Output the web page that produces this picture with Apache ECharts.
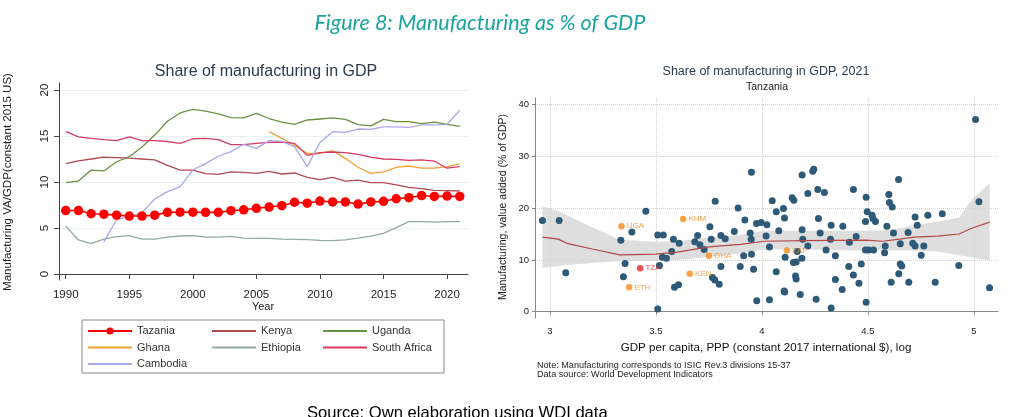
<!DOCTYPE html>
<html><head><meta charset="utf-8">
<script src="https://cdn.jsdelivr.net/npm/echarts@6/dist/echarts.min.js"></script>
<style>html,body{margin:0;padding:0;background:#fff}#c{width:1022px;height:417px}</style>
</head><body><div id="c"></div>
<script>
// ---------- Left panel data ----------
const years = [1990,1991,1992,1993,1994,1995,1996,1997,1998,1999,2000,2001,2002,2003,2004,2005,2006,2007,2008,2009,2010,2011,2012,2013,2014,2015,2016,2017,2018,2019,2020,2021];
const yearTicks = [1990,1995,2000,2005,2010,2015,2020];
const leftYTicks = [0,5,10,15,20];
const tanzania = [6.9,6.9,6.55,6.5,6.4,6.3,6.3,6.4,6.7,6.72,6.72,6.7,6.7,6.88,6.98,7.14,7.28,7.43,7.8,7.7,7.93,7.83,7.83,7.6,7.83,7.9,8.18,8.3,8.53,8.43,8.47,8.43];
const kenya = [12.0,12.3,12.5,12.7,12.65,12.6,12.5,12.4,11.8,11.3,11.3,10.9,10.82,11.1,11.05,10.94,11.15,10.87,10.98,10.5,10.25,10.5,10.1,10.2,9.93,9.93,9.7,9.42,9.28,9.1,9.06,9.02];
const uganda = [9.93,10.1,11.3,11.2,12.2,12.75,13.8,15.1,16.6,17.5,17.9,17.7,17.4,17.0,16.96,17.46,16.9,16.5,16.27,16.74,16.85,16.96,16.8,16.23,16.1,16.8,16.56,16.56,16.34,16.5,16.27,16.05];
const ghana = [null,null,null,null,null,null,null,null,null,null,null,null,null,null,null,null,15.47,14.75,14.0,13.1,13.1,13.4,12.57,11.6,10.94,11.1,11.6,11.74,11.5,11.5,11.67,11.96];
const ethiopia = [5.2,3.7,3.3,3.8,4.06,4.17,3.8,3.8,4.0,4.13,4.17,4.0,4.0,4.1,3.9,3.88,3.88,3.8,3.77,3.73,3.66,3.62,3.7,3.9,4.13,4.42,5.04,5.69,5.69,5.65,5.69,5.69];
const southAfrica = [15.5,14.9,14.75,14.6,14.5,14.9,14.5,14.5,14.4,14.2,14.7,14.75,14.6,14.06,14.06,14.2,14.3,14.35,14.2,12.9,13.2,13.26,13.2,13.0,12.7,12.5,12.46,12.35,12.4,12.28,11.5,11.67];
const cambodia = [null,null,null,3.5,5.9,6.2,6.7,8.15,8.95,9.5,11.3,12.0,12.8,13.3,14.1,13.66,14.5,14.4,13.84,11.67,14.3,15.47,15.4,15.76,15.72,16.0,16.0,15.94,16.2,16.2,16.27,17.8];

// ---------- Right panel data ----------
const gdpTicks = [3,3.5,4,4.5,5];
const mfgTicks = [0,10,20,30,40];
const otherX = [2.965,3.044,3.075,3.335,3.347,3.355,3.387,3.453,3.509,3.535,3.517,3.509,3.531,3.55,3.575,3.583,3.61,3.588,3.607,3.684,3.697,3.708,3.728,3.755,3.761,3.78,3.767,3.778,3.799,3.807,3.827,3.807,3.87,3.888,3.92,3.898,3.914,3.951,3.945,3.95,3.951,3.961,3.975,3.976,3.997,4.024,4.02,4.036,4.049,4.068,4.08,4.102,4.107,4.068,4.105,4.108,4.036,4.11,4.167,4.143,4.151,4.19,4.19,4.193,4.189,4.149,4.162,4.159,4.162,4.181,4.217,4.217,4.24,4.245,4.264,4.267,4.275,4.295,4.303,4.256,4.327,4.324,4.347,4.347,4.379,4.327,4.382,4.413,4.41,4.432,4.432,4.445,4.458,4.469,4.492,4.497,4.489,4.489,4.503,4.527,4.492,4.52,4.524,4.536,4.59,4.582,4.579,4.599,4.602,4.615,4.621,4.61,4.645,4.653,4.653,4.66,4.646,4.69,4.693,4.712,4.723,4.733,4.723,4.752,4.764,4.783,4.818,4.851,4.929,5.008,5.024,5.074];
const otherY = [17.6,17.6,7.5,13.8,6.75,9.3,15.4,19.4,14.8,14.8,8.9,0.5,10.5,10.3,11.6,14.0,13.2,4.7,5.2,13.5,14.7,12.9,12.0,16.4,14.0,21.3,6.6,6.1,5.3,14.7,14.1,8.7,15.5,20.0,17.7,8.7,10.8,26.9,15.2,14.0,11.1,8.2,17.0,2.1,17.2,16.8,14.6,12.5,21.4,19.3,15.6,19.9,18.1,7.7,4.0,3.8,2.3,10.5,11.6,22.0,21.5,26.4,15.8,14.0,10.3,9.5,9.6,6.9,6.3,3.3,12.7,22.8,27.1,27.5,23.6,18.0,15.2,23.0,11.9,2.4,16.7,14.0,10.8,6.2,4.3,0.7,16.5,13.4,8.7,23.6,7.1,14.5,5.5,9.2,22.1,19.3,17.4,11.9,11.9,11.9,1.8,18.6,18.0,17.4,16.5,12.7,11.4,22.6,21.1,20.2,15.2,5.7,25.5,13.1,9.2,8.8,7.3,15.3,5.7,13.2,18.3,16.7,12.7,10.9,12.7,18.6,5.7,18.9,8.9,37.1,21.2,4.6];
const peerNames = ['UGA','KHM','ETH','KEN','GHA','ZAF'];
const peerX = [3.338,3.629,3.374,3.66,3.75,4.118];
const peerY = [16.5,17.9,4.7,7.3,10.8,11.8];
const tzaName = ['TZA'];
const tzaX = [3.426];
const tzaY = [8.4];
const fitX = [2.965,3.04,3.08,3.2,3.33,3.5,3.6,3.75,3.9,4.01,4.2,4.49,4.57,4.65,4.72,4.83,4.93,4.99,5.075];
const fitY = [14.4,14.0,13.2,12.1,10.95,11.1,11.5,12.5,13.0,13.6,13.7,13.8,13.6,14.0,14.4,14.6,15.0,16.1,17.3];
const ciUpper = [20.3,19.4,18.6,16.3,13.9,13.5,13.6,14.3,14.8,15.6,15.6,15.6,15.7,16.1,16.7,17.4,18.2,21.6,24.8];
const ciLower = [8.5,8.8,9.0,9.4,9.8,9.8,10.0,10.6,11.3,12.0,12.0,11.8,11.8,11.8,11.8,11.6,10.9,10.5,9.9];

const zip = (a, b) => a.map((v, i) => [v, b[i]]);
const yearSeries = v => years.map((y, i) => [y, v[i]]);

const FONT = 'Liberation Sans, Arial, sans-serif';
const TITLE_COL = '#2b3a4e';

const leftColors = {
  Tazania: '#ff0000', Kenya: '#b04a52', Uganda: '#6b9141', Ghana: '#f3a23a',
  Ethiopia: '#93aaa3', 'South Africa': '#d63a62', Cambodia: '#aaa6ea'
};
const leftData = {
  Tazania: tanzania, Kenya: kenya, Uganda: uganda, Ghana: ghana,
  Ethiopia: ethiopia, 'South Africa': southAfrica, Cambodia: cambodia
};

const leftSeries = ['Kenya','Uganda','Ghana','Ethiopia','South Africa','Cambodia','Tazania'].map(n => ({
  name: n, type: 'line', xAxisIndex: 0, yAxisIndex: 0,
  data: yearSeries(leftData[n]),
  symbol: n === 'Tazania' ? 'circle' : 'none',
  symbolSize: 9.5,
  showSymbol: n === 'Tazania',
  color: leftColors[n],
  lineStyle: { width: n === 'Tazania' ? 1.6 : 1.3, color: leftColors[n] },
  itemStyle: { color: leftColors[n] },
  animation: false, silent: true, z: n === 'Tazania' ? 5 : 3
}));

const legendItem = n => n === 'Tazania' ? { name: n } : { name: n, itemStyle: { opacity: 0 } };
const legendCommon = {
  orient: 'vertical', top: 324, itemWidth: 44, itemHeight: 9, itemGap: 2.5,
  padding: 0, textStyle: { fontFamily: FONT, fontSize: 11, color: '#333', lineHeight: 14 },
  selectedMode: false
};

const option = {
  backgroundColor: '#fff',
  animation: false,
  grid: [
    { left: 59, top: 83, width: 409, height: 197 },
    { left: 535, top: 98, width: 463, height: 220 }
  ],
  legend: [
    Object.assign({ data: ['Tazania','Ghana','Cambodia'].map(legendItem), left: 87 }, legendCommon),
    Object.assign({ data: ['Kenya','Ethiopia'].map(legendItem), left: 211 }, legendCommon),
    Object.assign({ data: ['Uganda','South Africa'].map(legendItem), left: 322 }, legendCommon)
  ],
  xAxis: [
    { gridIndex: 0, type: 'value', min: 1989.47, max: 2021.65,
      axisLine: { lineStyle: { color: '#444', width: 1 } },
      axisTick: { customValues: yearTicks, length: 5, lineStyle: { color: '#444' } },
      axisLabel: { customValues: yearTicks, margin: 9, fontFamily: FONT, fontSize: 11.5, color: '#222', formatter: v => String(v) },
      splitLine: { show: false } },
    { gridIndex: 1, type: 'value', min: 2.93, max: 5.114,
      axisLine: { lineStyle: { color: '#888', width: 1 } },
      axisTick: { customValues: gdpTicks, length: 3, lineStyle: { color: '#888' } },
      axisLabel: { customValues: gdpTicks, margin: 8, fontFamily: FONT, fontSize: 9.5, color: '#222' },
      splitLine: { show: true, lineStyle: { type: 'dotted', color: '#d2d2d2', width: 1 } } }
  ],
  yAxis: [
    { gridIndex: 0, type: 'value', min: -0.65, max: 20.76,
      axisLine: { show: true, lineStyle: { color: '#444', width: 1 } },
      axisTick: { show: true, customValues: leftYTicks, length: 5, lineStyle: { color: '#444' } },
      axisLabel: { customValues: leftYTicks, rotate: 90, margin: 8, fontFamily: FONT, fontSize: 11.5, color: '#222' },
      splitLine: { show: true, lineStyle: { color: '#e8f1f1', width: 1 } } },
    { gridIndex: 1, type: 'value', min: -1.22, max: 41.25,
      axisLine: { show: true, lineStyle: { color: '#888', width: 1 } },
      axisTick: { show: true, customValues: mfgTicks, length: 3, lineStyle: { color: '#888' } },
      axisLabel: { customValues: mfgTicks, margin: 6, fontFamily: FONT, fontSize: 9.5, color: '#222' },
      splitLine: { show: true, lineStyle: { type: 'dotted', color: '#d2d2d2', width: 1 } } }
  ],
  series: leftSeries.concat([
    { name: 'ciBand', type: 'custom', xAxisIndex: 1, yAxisIndex: 1,
      data: zip(fitX, fitY), silent: true, z: 1,
      renderItem: (params, api) => {
        if (params.dataIndex !== 0) return null;
        const up = fitX.map((x, i) => api.coord([x, ciUpper[i]]));
        const lo = fitX.map((x, i) => api.coord([x, ciLower[i]])).reverse();
        return { type: 'polygon', shape: { points: up.concat(lo) }, style: { fill: '#d6d6d6', opacity: 0.8 } };
      } },
    { name: 'others', type: 'scatter', xAxisIndex: 1, yAxisIndex: 1,
      data: zip(otherX, otherY), symbolSize: 7, itemStyle: { color: '#2e5a78', opacity: 1 }, silent: true, z: 3 },
    { name: 'peers', type: 'scatter', xAxisIndex: 1, yAxisIndex: 1,
      data: peerNames.map((n, i) => ({ name: n, value: [peerX[i], peerY[i]] })),
      symbolSize: 6.5, itemStyle: { color: '#f28c1c' },
      label: { show: true, formatter: '{b}', position: 'right', distance: 2, fontFamily: FONT, fontSize: 8, color: '#f28c1c' },
      silent: true, z: 4 },
    { name: 'tza', type: 'scatter', xAxisIndex: 1, yAxisIndex: 1,
      data: tzaName.map((n, i) => ({ name: n, value: [tzaX[i], tzaY[i]] })),
      symbolSize: 6.5, itemStyle: { color: '#e8222c' },
      label: { show: true, formatter: '{b}', position: 'right', distance: 2, fontFamily: FONT, fontSize: 8, color: '#e8222c' },
      silent: true, z: 4 },
    { name: 'fit', type: 'line', xAxisIndex: 1, yAxisIndex: 1,
      data: zip(fitX, fitY), symbol: 'none', lineStyle: { color: '#b0474a', width: 1.2 }, silent: true, z: 5 }
  ]),
  graphic: [
    { type: 'text', x: 480, y: 23, style: { text: 'Figure 8: Manufacturing as % of GDP', fontFamily: 'Lato, Open Sans, sans-serif', fontStyle: 'italic', fontSize: 21.5, fill: '#1ba3a1', align: 'center', verticalAlign: 'middle' } },
    { type: 'text', x: 266, y: 72, style: { text: 'Share of manufacturing in GDP', fontFamily: FONT, fontSize: 16, fill: TITLE_COL, align: 'center', verticalAlign: 'middle' } },
    { type: 'text', x: 8, y: 182, rotation: Math.PI / 2, style: { text: 'Manufacturing VA/GDP(constant 2015 US)', fontFamily: FONT, fontSize: 11.5, fill: '#222', align: 'center', verticalAlign: 'middle' } },
    { type: 'text', x: 263, y: 307, style: { text: 'Year', fontFamily: FONT, fontSize: 11, fill: '#222', align: 'center', verticalAlign: 'middle' } },
    { type: 'rect', shape: { x: 82, y: 320, width: 362, height: 53 }, style: { fill: 'none', stroke: '#888', lineWidth: 1 } },
    { type: 'text', x: 766, y: 72, style: { text: 'Share of manufacturing in GDP, 2021', fontFamily: FONT, fontSize: 12.5, fill: TITLE_COL, align: 'center', verticalAlign: 'middle' } },
    { type: 'text', x: 767, y: 87, style: { text: 'Tanzania', fontFamily: FONT, fontSize: 10.5, fill: '#222', align: 'center', verticalAlign: 'middle' } },
    { type: 'text', x: 503, y: 207, rotation: Math.PI / 2, style: { text: 'Manufacturing, value added (% of GDP)', fontFamily: FONT, fontSize: 10.5, fill: '#222', align: 'center', verticalAlign: 'middle' } },
    { type: 'text', x: 766, y: 348, style: { text: 'GDP per capita, PPP (constant 2017 international $), log', fontFamily: FONT, fontSize: 11.6, fill: '#111', align: 'center', verticalAlign: 'middle' } },
    { type: 'text', x: 537, y: 365.5, style: { text: 'Note: Manufacturing corresponds to ISIC Rev.3 divisions 15-37', fontFamily: FONT, fontSize: 9.1, fill: '#222', align: 'left', verticalAlign: 'middle' } },
    { type: 'text', x: 537, y: 374.5, style: { text: 'Data source: World Development Indicators', fontFamily: FONT, fontSize: 9.1, fill: '#222', align: 'left', verticalAlign: 'middle' } },
    { type: 'text', x: 307, y: 413, style: { text: 'Source: Own elaboration using WDI data', fontFamily: FONT, fontSize: 16.6, fill: '#000', align: 'left', verticalAlign: 'middle' } }
  ]
};

const chart = echarts.init(document.getElementById('c'));
chart.setOption(option);
</script>
</body></html>
